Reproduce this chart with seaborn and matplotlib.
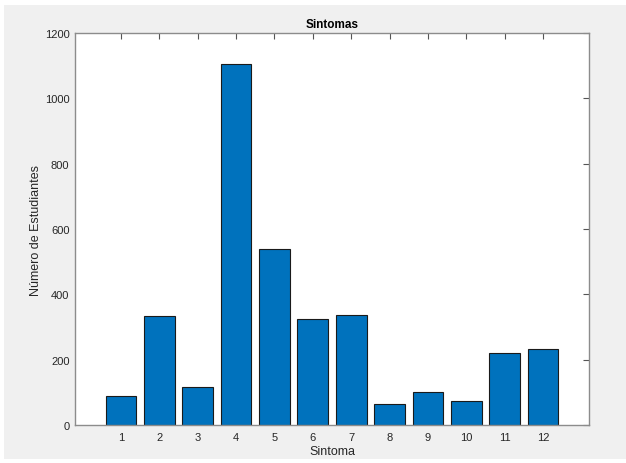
import matplotlib
matplotlib.use("Agg")
import matplotlib.pyplot as plt
import seaborn as sns
import pandas as pd
from matplotlib.patches import Rectangle

sintomas = [1, 2, 3, 4, 5, 6, 7, 8, 9, 10, 11, 12]
estudiantes = [90, 335, 117, 1105, 540, 323, 338, 65, 102, 73, 220, 232]
yticks = [0, 200, 400, 600, 800, 1000, 1200]

df = pd.DataFrame({"Sintoma": sintomas, "Estudiantes": estudiantes})

sns.set_style("white")
plt.rcParams['font.family'] = ['Liberation Sans', 'DejaVu Sans']

fig = plt.figure(figsize=(6.26, 4.64), dpi=100)
fig.patch.set_facecolor("white")
fig.patches.append(Rectangle((4/626, 4/464), 622/626, 454/464, transform=fig.transFigure,
                             facecolor="#f0f0f0", edgecolor="none", zorder=-10))

ax = fig.add_axes([75/626, 1-426/464, (589-75)/626, (426-34)/464])
ax.set_facecolor("white")

sns.barplot(data=df, x="Sintoma", y="Estudiantes", native_scale=True, width=0.8,
            color="#0072BD", saturation=1, edgecolor="#1a1a1a", linewidth=0.8, ax=ax)

ax.set_xlim(-0.2, 13.2)
ax.set_ylim(0, 1200)
ax.set_xticks(sintomas)
ax.set_xticklabels([str(s) for s in sintomas])
ax.set_yticks(yticks)
ax.set_yticklabels([str(t) for t in yticks])

for s in ax.spines.values():
    s.set_visible(True)
    s.set_color("#8c8c8c")
    s.set_linewidth(1.0)

ax.tick_params(axis="both", direction="in", length=4, width=0.8, color="#555555",
               labelsize=8, labelcolor="#262626", top=True, right=True, pad=5)
ax.tick_params(axis="y", pad=4)

ax.set_xlabel("Sintoma", fontsize=9, color="#262626", labelpad=2)
ax.set_ylabel("Número de Estudiantes", fontsize=9, color="#262626", labelpad=2)
ax.set_title("Sintomas", fontsize=8.5, fontweight="bold", color="#000000", pad=4)

fig.savefig("out.png", dpi=100, facecolor=fig.get_facecolor())
